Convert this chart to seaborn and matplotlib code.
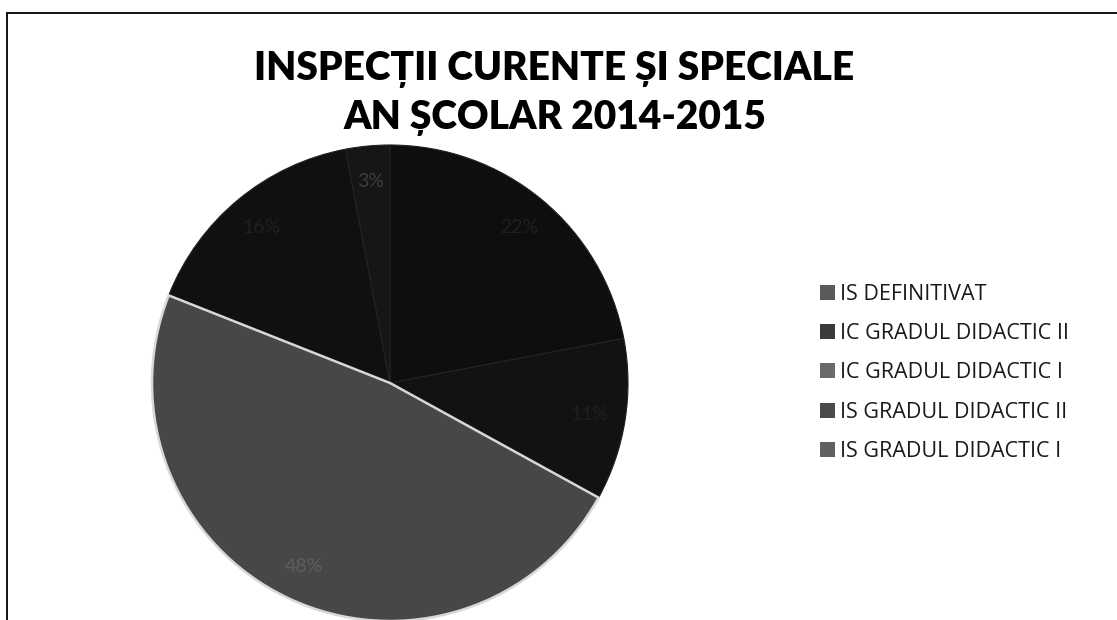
import matplotlib
matplotlib.use("Agg")
import matplotlib.pyplot as plt
from matplotlib.patches import Rectangle
import seaborn as sns

# ---- data ----
categories = ["IS DEFINITIVAT", "IC GRADUL DIDACTIC II", "IC GRADUL DIDACTIC I",
              "IS GRADUL DIDACTIC II", "IS GRADUL DIDACTIC I"]
shares = [22, 11, 48, 16, 3]
title_lines = ["INSPECȚII CURENTE ȘI SPECIALE", "AN ȘCOLAR 2014-2015"]

# ---- style ----
sns.set_theme(style="white")
plt.rcParams["font.family"] = ["Lato", "DejaVu Sans"]
slice_colors = ["#0e0e0e", "#121212", "#474747", "#101010", "#161616"]
legend_colors = ["#5a5a5a", "#3a3a3a", "#6a6a6a", "#4a4a4a", "#606060"]

W, H = 1117, 620
fig = plt.figure(figsize=(W / 100, H / 100), dpi=100)
fig.patch.set_facecolor("white")

# pie axes: centre ~ (390, 383) px, radius ~238 px
cx, cy, r = 390, 383, 238
ax = fig.add_axes([(cx - r) / W, (H - cy - r) / H, 2 * r / W, 2 * r / H])
wedges, texts, autotexts = ax.pie(
    shares, colors=slice_colors, startangle=90, counterclock=False,
    autopct="%1.0f%%", pctdistance=0.85, radius=1.0,
    wedgeprops=dict(linewidth=0.8, edgecolor="#222222"),
    textprops=dict(color="#1f1f1f", fontsize=14),
)
wedges[2].set_edgecolor("#d8d8d8")
wedges[2].set_linewidth(1.8)
wedges[2].set_zorder(3)
autotexts[2].set_color("#5c5c5c")
autotexts[2].set_zorder(4)
autotexts[4].set_color("#3c3c3c")
ax.set_xlim(-1, 1)
ax.set_ylim(-1, 1)
ax.set_aspect("equal")
ax.axis("off")

# title
fig.text(554 / W, 1 - 70 / H, title_lines[0], ha="center", va="center",
         fontsize=28, fontweight="heavy", color="black")
fig.text(555 / W, 1 - 118 / H, title_lines[1], ha="center", va="center",
         fontsize=28, fontweight="heavy", color="black")

# legend
handles = [Rectangle((0, 0), 1, 1, facecolor=c, edgecolor="none") for c in legend_colors]
fig.legend(handles, categories, loc="center left",
           bbox_to_anchor=(820 / W, 1 - 373 / H), frameon=False,
           borderpad=0, borderaxespad=0, handlelength=0.7, handleheight=0.7,
           handletextpad=0.25, labelspacing=0.85, labelcolor="#1a1a1a",
           prop=dict(family=["Open Sans", "DejaVu Sans"], size=15.5))

# chart frame (only top and left edges visible in the crop)
fig.add_artist(Rectangle((7 / W, -0.1), 1.2, (H - 13) / H + 0.1,
                         transform=fig.transFigure, fill=False,
                         edgecolor="black", linewidth=1.3))

fig.savefig("out.png", dpi=100, facecolor="white")
